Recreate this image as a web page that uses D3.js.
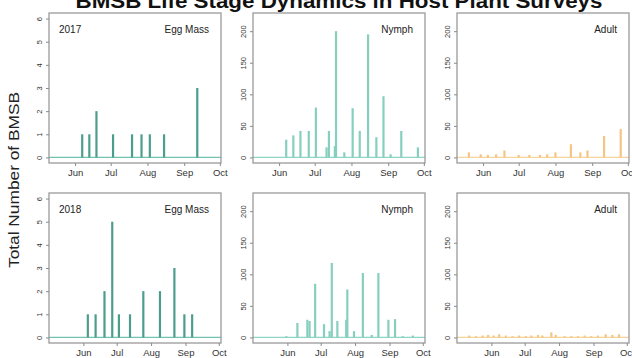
<!DOCTYPE html>
<html><head><meta charset="utf-8">
<script src="https://cdn.jsdelivr.net/npm/d3@7"></script>
<style>body{margin:0;background:#fff}svg{display:block}text{font-family:"Liberation Sans",Arial,sans-serif}</style>
</head><body><svg id="c" width="632" height="358"></svg>
<script>
const chartTitle = "BMSB Life Stage Dynamics in Host Plant Surveys";
const yTitle = "Total Number of BMSB";
const stages = ["Egg Mass", "Nymph", "Adult"];
const years = ["2017", "2018"];
const eggTicks = [0, 1, 2, 3, 4, 5, 6];
const countTicks = [0, 50, 100, 150, 200];
const monthTicks = ["06-01", "07-01", "08-01", "09-01", "10-01"];
const monthLabels = ["Jun", "Jul", "Aug", "Sep", "Oct"];
const eggLimits = [0, 6];
const countLimits = [0, 220];
const dateLimits2017 = ["2017-05-10", "2017-10-02"];
const dateLimits2018 = ["2018-05-01", "2018-10-03"];

const egg2017Dates = ["2017-06-07","2017-06-13","2017-06-19","2017-07-03","2017-07-19","2017-07-27","2017-08-03","2017-08-15","2017-09-12"];
const egg2017Counts = [1,1,2,1,1,1,1,1,3];
const nymph2017Dates = ["2017-06-07","2017-06-13","2017-06-19","2017-06-26","2017-07-02","2017-07-11","2017-07-13","2017-07-18","2017-07-19","2017-07-26","2017-08-02","2017-08-08","2017-08-15","2017-08-22","2017-08-28","2017-09-03","2017-09-12","2017-09-26"];
const nymph2017Counts = [28,35,42,42,79,16,42,18,200,8,78,42,195,32,97,5,42,16];
const adult2017Dates = ["2017-05-20","2017-05-30","2017-06-05","2017-06-12","2017-06-19","2017-07-01","2017-07-10","2017-07-19","2017-07-25","2017-08-01","2017-08-14","2017-08-22","2017-08-28","2017-09-11","2017-09-25"];
const adult2017Counts = [8,5,4,5,11,4,4,4,5,8,21,8,11,34,45];

const egg2018Dates = ["2018-06-05","2018-06-12","2018-06-20","2018-06-27","2018-07-03","2018-07-13","2018-07-25","2018-08-09","2018-08-22","2018-08-31","2018-09-07"];
const egg2018Counts = [1,1,2,5,1,1,2,2,3,1,1];
const nymph2018Dates = ["2018-05-31","2018-06-10","2018-06-19","2018-06-21","2018-06-26","2018-07-04","2018-07-09","2018-07-11","2018-07-16","2018-07-24","2018-07-25","2018-07-31","2018-08-08","2018-08-16","2018-08-22","2018-08-31","2018-09-06","2018-09-13","2018-09-22"];
const nymph2018Counts = [2,23,28,26,85,21,10,118,26,28,76,10,102,4,102,28,29,2,3];
const adult2018Dates = ["2018-05-12","2018-05-18","2018-05-24","2018-05-29","2018-06-03","2018-06-08","2018-06-14","2018-06-20","2018-06-26","2018-07-02","2018-07-07","2018-07-13","2018-07-17","2018-07-25","2018-07-29","2018-08-06","2018-08-12","2018-08-18","2018-08-24","2018-08-30","2018-09-05","2018-09-12","2018-09-18","2018-09-24"];
const adult2018Counts = [3,2,3,4,3,5,3,2,3,2,3,4,3,8,4,2,2,2,3,2,3,5,4,5];

const parse = d3.timeParse("%Y-%m-%d");
const panels = [
  {row:0,col:0,stage:stages[0],year:years[0],dates:egg2017Dates,counts:egg2017Counts,lim:eggLimits,ticks:eggTicks,xl:dateLimits2017},
  {row:0,col:1,stage:stages[1],year:null,dates:nymph2017Dates,counts:nymph2017Counts,lim:countLimits,ticks:countTicks,xl:dateLimits2017},
  {row:0,col:2,stage:stages[2],year:null,dates:adult2017Dates,counts:adult2017Counts,lim:countLimits,ticks:countTicks,xl:dateLimits2017},
  {row:1,col:0,stage:stages[0],year:years[1],dates:egg2018Dates,counts:egg2018Counts,lim:eggLimits,ticks:eggTicks,xl:dateLimits2018},
  {row:1,col:1,stage:stages[1],year:null,dates:nymph2018Dates,counts:nymph2018Counts,lim:countLimits,ticks:countTicks,xl:dateLimits2018},
  {row:1,col:2,stage:stages[2],year:null,dates:adult2018Dates,counts:adult2018Counts,lim:countLimits,ticks:countTicks,xl:dateLimits2018}
];
const stageColor = {"Egg Mass":"#4d9d8f","Nymph":"#86cfbf","Adult":"#f4c583"};
const baseColor = {"Egg Mass":"#72c2b1","Nymph":"#8fd5c5","Adult":"#f7d49c"};

const svg = d3.select("#c");
const lefts = [49, 253, 457], tops = [13, 193];
const W = 172, H = 150;

panels.forEach(p => {
  const g = svg.append("g").attr("transform", `translate(${lefts[p.col]},${tops[p.row]})`);
  const ext = (p.lim[1]-p.lim[0])*0.04;
  const y = d3.scaleLinear().domain([p.lim[0]-ext, p.lim[1]+ext]).range([H, 0]);
  const x = d3.scaleTime().domain(p.xl.map(parse)).range([0, W]);
  const yr = p.xl[0].slice(0,4);

  g.append("line").attr("x1", 0).attr("x2", W).attr("y1", y(0)).attr("y2", y(0))
    .attr("stroke", baseColor[p.stage]).attr("stroke-width", 1.3);
  g.selectAll("line.bar").data(p.dates.map((d,i)=>({d:parse(d), v:p.counts[i]})))
    .enter().append("line").attr("class","bar")
    .attr("x1", d=>x(d.d)).attr("x2", d=>x(d.d))
    .attr("y1", y(0)).attr("y2", d=>y(d.v))
    .attr("stroke", stageColor[p.stage]).attr("stroke-width", 2.2);
  g.append("rect").attr("x",0).attr("y",0).attr("width",W).attr("height",H)
    .attr("fill","none").attr("stroke","#9a9a9a").attr("stroke-width",1.3);

  const ya = g.append("g").call(d3.axisLeft(y).tickValues(p.ticks).tickSize(3).tickFormat(d3.format("d")));
  ya.select(".domain").remove();
  ya.selectAll("line").attr("stroke","#8a8a8a");
  ya.selectAll("text").attr("transform","rotate(-90)").attr("x",0).attr("y",-7).attr("dy",0)
    .attr("text-anchor","middle").attr("font-size",7.5).attr("fill","#333");

  const tickDates = monthTicks.map(m => parse(`${yr}-${m}`));
  const xa = g.append("g").attr("transform",`translate(0,${H})`)
    .call(d3.axisBottom(x).tickValues(tickDates).tickSize(3).tickFormat((d,i)=>monthLabels[i]));
  xa.select(".domain").remove();
  xa.selectAll("line").attr("stroke","#8a8a8a");
  xa.selectAll("text").attr("y",13).attr("dy",0).attr("font-size",9.5).attr("fill","#333");

  if (p.year) g.append("text").attr("x",10).attr("y",20).attr("font-size",10).attr("fill","#222").text(p.year);
  g.append("text").attr("x",W-12).attr("y",20).attr("text-anchor","end").attr("font-size",10).attr("fill","#222").text(p.stage);
});

svg.append("text").attr("x",339).attr("y",8).attr("text-anchor","middle")
  .attr("font-size",21).attr("font-weight","bold").attr("fill","#111")
  .attr("textLength",527).attr("lengthAdjust","spacingAndGlyphs").text(chartTitle);
svg.append("text").attr("transform","translate(19,180) rotate(-90)").attr("text-anchor","middle")
  .attr("font-size",15).attr("fill","#222")
  .attr("textLength",176).attr("lengthAdjust","spacingAndGlyphs").text(yTitle);
</script></body></html>
